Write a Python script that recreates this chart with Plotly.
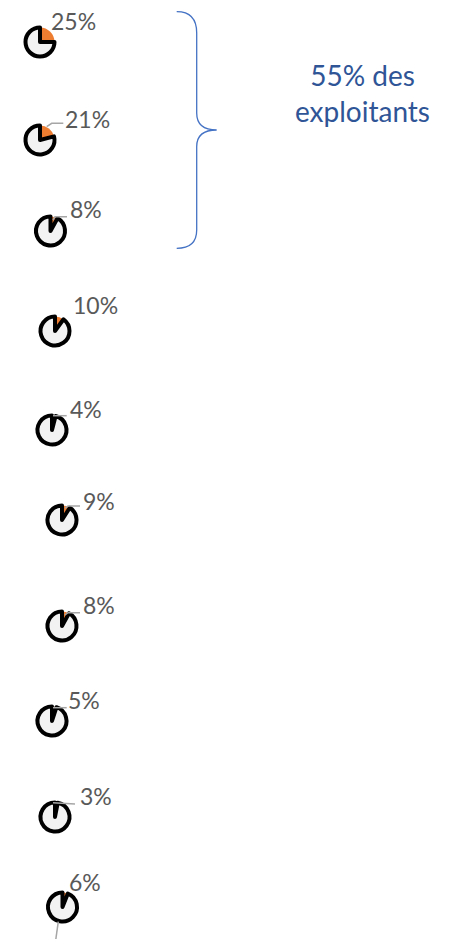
import plotly.graph_objects as go

# ---- data ----
shares = [25, 21, 8, 10, 4, 9, 8, 5, 3, 6]          # % share (orange slice)
rest = [100 - s for s in shares]                     # remaining share (grey slice)
labels = [f"{s}%" for s in shares]
slice_names = ["part", "reste"]
brace_text = "55% des<br>exploitants"

# ---- layout (pixel positions in the 454x939 window) ----
OFF = 8                      # default page margin of the browser body
W, H = 454 - OFF, 939 - OFF  # figure size so the page does not scroll
pie_cx = [40, 40, 50.5, 55, 52, 62, 62, 52, 55, 62.5]
pie_cy = [42, 140, 231, 331, 430, 520, 626, 721, 817, 907]
lab_cx = [73, 87.5, 86, 95, 86, 98.5, 99, 84, 96, 85]
lab_cy = [21, 118.5, 209, 305, 409, 501, 605, 700, 796, 882]
leaders = [
    None,
    [(46.7, 126.7), (51.7, 123.3), (63.3, 123.3)],
    [(53, 220), (55, 216.7), (67, 216.7)],
    None,
    [(53, 415.7), (66.7, 415.7)],
    [(65, 508), (68, 506), (80, 506)],
    [(65, 615), (68, 612.7), (80, 612.7)],
    [(53, 707.7), (66.7, 707.7)],
    [(53, 802.7), (75, 804)],
    [(58.3, 921.7), (55, 945)],
]
PIE = 29  # pie domain size in px

def px(x):
    return (x - OFF) / W

def py(y):
    return 1 - (y - OFF) / H

fig = go.Figure()
for i, (s, r) in enumerate(zip(shares, rest)):
    cx, cy = pie_cx[i], pie_cy[i]
    fig.add_trace(go.Pie(
        values=[s, r],
        labels=slice_names,
        sort=False,
        direction="clockwise",
        rotation=0,
        textinfo="none",
        hoverinfo="label+percent",
        showlegend=False,
        marker=dict(colors=["#ED7D31", "#F2F2F2"],
                    line=dict(color=["#ED7D31", "#000000"], width=[0, 4])),
        domain=dict(x=[px(cx - PIE / 2), px(cx + PIE / 2)],
                    y=[py(cy + PIE / 2), py(cy - PIE / 2)]),
    ))

annotations = []
for i, t in enumerate(labels):
    annotations.append(dict(
        x=px(lab_cx[i]), y=py(lab_cy[i]), xref="paper", yref="paper",
        text=t, showarrow=False, xanchor="center", yanchor="middle",
        font=dict(family="Lato", size=23, color="#595959"),
    ))
annotations.append(dict(
    x=px(362), y=py(93), xref="paper", yref="paper",
    text=brace_text, showarrow=False, xanchor="center", yanchor="middle",
    font=dict(family="Lato", size=28, color="#2F5597"),
))

shapes = []
for pts in leaders:
    if not pts:
        continue
    path = "M " + " L ".join(f"{px(x):.5f},{py(y):.5f}" for x, y in pts)
    shapes.append(dict(type="path", path=path, xref="paper", yref="paper",
                       line=dict(color="#A6A6A6", width=1.5)))

# curly brace
bx = [176.7, 196.7, 216.7]
by = [11.7, 33, 113, 130, 146.7, 230, 248.3]
brace = (
    f"M {px(bx[0])},{py(by[0])} "
    f"Q {px(bx[1])},{py(by[0])} {px(bx[1])},{py(by[1])} "
    f"L {px(bx[1])},{py(by[2])} "
    f"Q {px(bx[1])},{py(by[3])} {px(bx[2])},{py(by[3])} "
    f"Q {px(bx[1])},{py(by[3])} {px(bx[1])},{py(by[4])} "
    f"L {px(bx[1])},{py(by[5])} "
    f"Q {px(bx[1])},{py(by[6])} {px(bx[0])},{py(by[6])}"
)
shapes.append(dict(type="path", path=brace, xref="paper", yref="paper",
                   line=dict(color="#4472C4", width=1.3)))

fig.update_layout(
    width=W, height=H,
    margin=dict(l=0, r=0, t=0, b=0),
    paper_bgcolor="white", plot_bgcolor="white",
    annotations=annotations, shapes=shapes,
)
fig.write_html("out.html")
